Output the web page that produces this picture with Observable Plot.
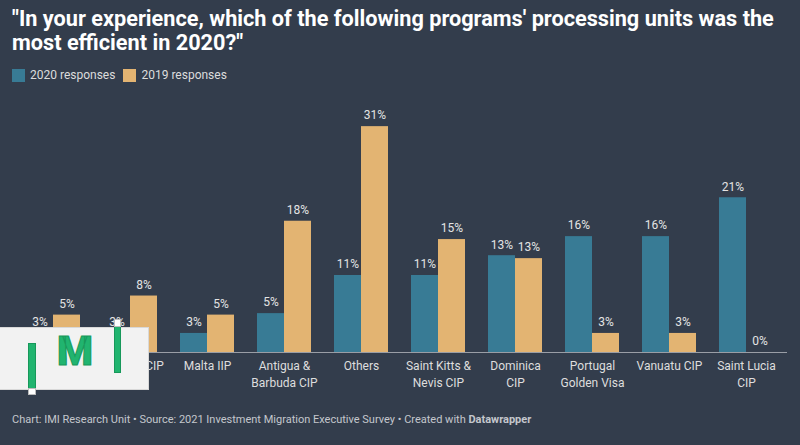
<!DOCTYPE html>
<html>
<head>
<meta charset="utf-8">
<script src="https://cdn.jsdelivr.net/npm/d3@7"></script>
<script src="https://cdn.jsdelivr.net/npm/@observablehq/plot@0.6"></script>
<style>
  html, body { margin: 0; padding: 0; background: #333d4c; width: 800px; height: 445px; overflow: hidden; font-family: Roboto, "Noto Sans", sans-serif; }
  #wrap { position: relative; width: 800px; height: 445px; }
  #title { position: absolute; left: 12px; top: 7px; width: 785px; color: #ffffff; font-weight: 700; font-size: 21.7px; line-height: 23.5px; }
  #legend { position: absolute; left: 12px; top: 68px; display: flex; align-items: center; color: #dcdcdc; font-size: 12px; }
  .sw { width: 13px; height: 13px; display: inline-block; margin-right: 5px; }
  .li { display: flex; align-items: center; margin-right: 8px; }
  #chart { position: absolute; left: 0; top: 90px; }
  #footer { position: absolute; left: 12px; top: 413px; color: #c4c7cc; font-size: 11px; }
  #logo { position: absolute; left: 0; top: 327px; width: 148px; height: 61px; background: #f2f2f2; border: 1px solid #d8d8d8; border-left: none; }
  .gbar { position: absolute; background: #21b46f; border: 1px solid #17985a; box-sizing: border-box; }
  .wsq { position: absolute; background: #ffffff; border: 1px solid #bdbdbd; box-sizing: border-box; }
  #logoM { position: absolute; left: 57px; top: 331px; font-size: 41px; font-weight: 900; color: #21b46f; -webkit-text-stroke: 1px #17985a; line-height: 1; }
</style>
</head>
<body>
<div id="wrap">
  <div id="title">"In your experience, which of the following programs' processing units was the most efficient in 2020?"</div>
  <div id="legend"></div>
  <div id="chart"></div>
  <div id="footer">Chart: IMI Research Unit • Source: 2021 Investment Migration Executive Survey • Created with <b>Datawrapper</b></div>
  <div id="logo"></div>
  <div class="gbar" style="left:28px;top:343px;width:8px;height:47px;"></div>
  <div class="wsq" style="left:28px;top:388px;width:8px;height:7px;"></div>
  <div class="gbar" style="left:114px;top:326px;width:7px;height:47px;"></div>
  <div class="wsq" style="left:114px;top:319px;width:7px;height:8px;"></div>
  <div id="logoM">M</div>
</div>
<script>
const categories = ["Turkey CIP", "Grenada CIP", "Malta IIP", "Antigua &\nBarbuda CIP", "Others", "Saint Kitts &\nNevis CIP", "Dominica\nCIP", "Portugal\nGolden Visa", "Vanuatu CIP", "Saint Lucia\nCIP"];
const series = ["2020 responses", "2019 responses"];
const values2020 = [2.6, 2.6, 2.6, 5.3, 10.5, 10.5, 13.2, 15.8, 15.8, 21.1];
const values2019 = [5.1, 7.7, 5.1, 17.9, 30.8, 15.4, 12.8, 2.6, 2.6, 0];
const colors = ["#387b95", "#e3b472"];

const rows2020 = categories.map((c, i) => ({category: c, value: values2020[i]}));
const rows2019 = categories.map((c, i) => ({category: c, value: values2019[i]}));

// legend
const legend = document.getElementById("legend");
series.forEach((s, i) => {
  const item = document.createElement("div");
  item.className = "li";
  item.innerHTML = `<span class="sw" style="background:${colors[i]}"></span><span>${s}</span>`;
  legend.appendChild(item);
});

const labelFmt = d => Math.round(d.value) + "%";

const chart = Plot.plot({
  width: 800,
  height: 310,
  marginLeft: 12,
  marginRight: 13,
  marginTop: 20,
  marginBottom: 48,
  style: {background: "transparent", color: "#e4e4e4", fontFamily: "Roboto, sans-serif", fontSize: "12px"},
  x: {domain: categories, paddingInner: 0.3, paddingOuter: 0.18, axis: null},
  y: {domain: [0, 33], axis: null},
  marks: [
    Plot.barY(rows2020, {x: "category", y: "value", fill: colors[0], insetRight: 27}),
    Plot.barY(rows2019, {x: "category", y: "value", fill: colors[1], insetLeft: 27}),
    Plot.ruleY([0], {stroke: "#9a9ea6", strokeWidth: 1}),
    Plot.text(rows2020, {x: "category", y: "value", text: labelFmt, dx: -13.5, dy: -11, fill: "#e4e4e4", fontSize: 12}),
    Plot.text(rows2019, {x: "category", y: "value", text: labelFmt, dx: 13.5, dy: -11, fill: "#e4e4e4", fontSize: 12}),
    Plot.text(categories, {x: d => d, frameAnchor: "bottom", lineAnchor: "top", dy: 5, lineHeight: 1.45, text: d => d, fill: "#dedede", fontSize: 12})
  ]
});
document.getElementById("chart").appendChild(chart);
</script>
</body>
</html>
